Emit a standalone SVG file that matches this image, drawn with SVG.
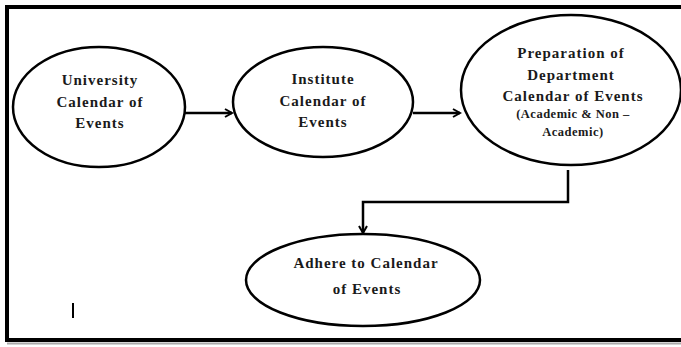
<svg xmlns="http://www.w3.org/2000/svg" width="681" height="347" viewBox="0 0 681 347">
<defs>
<style>
.node ellipse{fill:#fff;stroke:#000;stroke-width:2.5}
.t{font-family:"Liberation Serif","Times New Roman",serif;font-weight:bold;font-size:15px;fill:#1a1a1a;text-anchor:middle;letter-spacing:1px}
.s{font-size:12.5px;letter-spacing:0.5px}
.c{fill:none;stroke:#000;stroke-width:2.5}
</style>
<marker id="ah" markerWidth="10" markerHeight="10" refX="8" refY="5" orient="auto" markerUnits="userSpaceOnUse">
<path d="M1,1 L8,5 L1,9" fill="none" stroke="#000" stroke-width="2"/>
</marker>
</defs>
<rect width="681" height="347" fill="#fff"/>
<line x1="7" y1="343.5" x2="681" y2="343.5" stroke="#aaa" stroke-width="2"/>
<path d="M681,7 H7 V340 H681" fill="none" stroke="#000" stroke-width="4"/>
<line x1="73" y1="303" x2="73" y2="318" stroke="#000" stroke-width="2"/>
<g id="connectors">
<line class="c" x1="185" y1="113" x2="232" y2="113" marker-end="url(#ah)"/>
<line class="c" x1="413" y1="113" x2="460" y2="113" marker-end="url(#ah)"/>
<polyline class="c" points="568,170 568,202 363,202 363,233" marker-end="url(#ah)"/>
</g>
<g id="university" class="node">
<ellipse cx="99" cy="107" rx="86" ry="60"/>
<text class="t" x="100" y="85">University</text>
<text class="t" x="100" y="107">Calendar of</text>
<text class="t" x="100" y="128">Events</text>
</g>
<g id="institute" class="node">
<ellipse cx="323" cy="102" rx="90" ry="55"/>
<text class="t" x="323" y="84">Institute</text>
<text class="t" x="323" y="106">Calendar of</text>
<text class="t" x="323" y="127">Events</text>
</g>
<g id="department" class="node">
<ellipse cx="571" cy="90" rx="110" ry="75"/>
<text class="t" x="571" y="58">Preparation of</text>
<text class="t" x="571" y="80">Department</text>
<text class="t" x="573" y="101">Calendar of Events</text>
<text class="t s" x="573" y="118">(Academic &amp; Non –</text>
<text class="t s" x="573" y="136">Academic)</text>
</g>
<g id="adhere" class="node">
<ellipse cx="363" cy="280" rx="117" ry="46"/>
<text class="t" x="366" y="268">Adhere to Calendar</text>
<text class="t" x="367" y="294">of Events</text>
</g>
</svg>
